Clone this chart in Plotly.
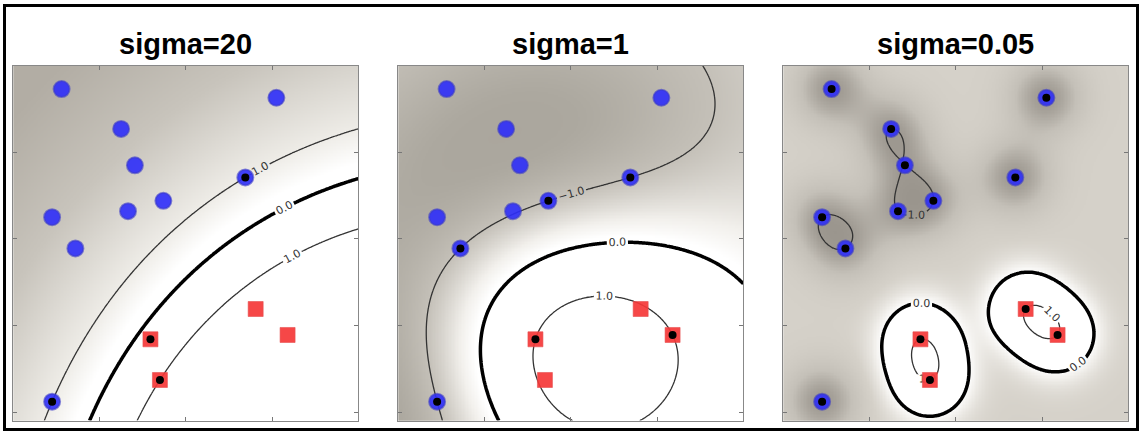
import numpy as np
import plotly.graph_objects as go

# ---- data ----
blue_x = [0.56, 3.05, 1.25, 1.41, 2.69, 1.74, 1.33, 0.45, 0.72, 0.45]
blue_y = [3.73, 3.63, 3.27, 2.85, 2.71, 2.44, 2.32, 2.25, 1.89, 0.12]
red_x = [2.81, 3.18, 1.59, 1.70]
red_y = [1.19, 0.89, 0.84, 0.37]

titles = ["sigma=20", "sigma=1", "sigma=0.05"]
# support vectors per panel (indices into blue / red lists)
sv_blue = [[4, 9], [4, 5, 8, 9], list(range(10))]
sv_red = [[2, 3], [1, 2], list(range(4))]
# decision value of margin-violating support vectors (soft margin), by red index
sv_red_inside = [{2: 0.3}, {}, {}]
# kernel widths in plot units (model setting)
widths = [5.0, 1.3, 0.3]

W, H = 1141, 433
xdom = [(13.3, 358.3), (398.3, 743.3), (783.3, 1128.3)]
ytop, ybot = 65.7, 420.7

gx = np.linspace(0, 4, 241)
gy = np.linspace(-0.1, 4, 247)
GX, GY = np.meshgrid(gx, gy)


def decision(si, w):
    bx = [blue_x[i] for i in sv_blue[si]] + [red_x[i] for i in sv_red[si]]
    by = [blue_y[i] for i in sv_blue[si]] + [red_y[i] for i in sv_red[si]]
    lab = [-1.0] * len(sv_blue[si]) + [sv_red_inside[si].get(i, 1.0) for i in sv_red[si]]
    P = np.array([bx, by]).T
    n = len(lab)
    d2 = ((P[:, None, :] - P[None, :, :]) ** 2).sum(-1)
    K = np.exp(-d2 / (2 * w * w))
    A = np.zeros((n + 1, n + 1))
    A[:n, :n] = K
    A[:n, n] = 1.0
    A[n, :n] = 1.0
    rhs = np.array(lab + [0.0])
    sol = np.linalg.lstsq(A, rhs, rcond=None)[0]
    c, b = sol[:n], sol[n]
    D2 = (GX[..., None] - P[:, 0]) ** 2 + (GY[..., None] - P[:, 1]) ** 2
    return (np.exp(-D2 / (2 * w * w)) * c).sum(-1) + b, b


def make_scale(anchors):
    anchors = sorted(anchors, key=lambda a: a[0])
    lo, hi = anchors[0][0], anchors[-1][0]
    cs = []
    for v, col in anchors:
        t = (v - lo) / (hi - lo)
        if cs and t <= cs[-1][0]:
            t = min(1.0, cs[-1][0] + 1e-4)
        cs.append([t, "rgb(%d,%d,%d)" % col])
    cs[-1][0] = 1.0
    return cs, lo, hi


fig = go.Figure()
for k in range(3):
    sfx = "" if k == 0 else str(k + 1)
    xa, ya = "x" + sfx, "y" + sfx
    Z, bias = decision(k, widths[k])
    if k == 0:
        anchors = [(-5.0, (178, 173, 164)), (-3.0, (200, 196, 188)), (-1.0, (238, 236, 231)),
                   (-0.3, (255, 255, 255)), (0.0, (255, 255, 255))]
    elif k == 1:
        anchors = [(-2.2, (160, 155, 146)), (-1.5, (172, 168, 159)), (-1.0, (196, 192, 184)),
                   (-0.4, (242, 240, 236)), (-0.1, (255, 255, 255)), (0.0, (255, 255, 255))]
    else:
        bb = min(max(bias, -0.9), -0.15)
        anchors = [(-1.4, (140, 135, 127)), (-1.0, (158, 153, 145)),
                   ((bb - 1.0) / 2.0, (196, 192, 184)), (bb, (213, 209, 201)),
                   (bb * 0.4, (240, 238, 234)), (0.0, (255, 255, 255))]
    cs, zlo, zhi = make_scale(anchors)
    fig.add_trace(go.Heatmap(x=gx, y=gy, z=Z, colorscale=cs, zmin=zlo, zmax=zhi,
                             showscale=False, hoverinfo="skip",
                             xaxis=xa, yaxis=ya))
    fig.add_trace(go.Contour(x=gx, y=gy, z=Z, showscale=False,
                             contours=dict(start=-1, end=1, size=2, coloring="none",
                                           showlabels=True, labelformat=".1f",
                                           labelfont=dict(size=11, color="#333", family="DejaVu Sans")),
                             line=dict(color="#333", width=1.3, smoothing=1),
                             hoverinfo="skip", xaxis=xa, yaxis=ya))
    fig.add_trace(go.Contour(x=gx, y=gy, z=Z, showscale=False,
                             contours=dict(start=0, end=0, size=1, coloring="none",
                                           showlabels=True, labelformat=".1f",
                                           labelfont=dict(size=11, color="#333", family="DejaVu Sans")),
                             line=dict(color="black", width=3.5, smoothing=1),
                             hoverinfo="skip", xaxis=xa, yaxis=ya))
    fig.add_trace(go.Scatter(x=blue_x, y=blue_y, mode="markers",
                             marker=dict(symbol="circle", size=16, color="rgba(45,45,250,0.9)",
                                         line=dict(color="rgba(60,60,200,0.6)", width=2)),
                             hoverinfo="skip", xaxis=xa, yaxis=ya))
    fig.add_trace(go.Scatter(x=red_x, y=red_y, mode="markers",
                             marker=dict(symbol="square", size=15, color="rgba(245,55,55,0.92)",
                                         line=dict(color="rgba(230,80,80,0.6)", width=1)),
                             hoverinfo="skip", xaxis=xa, yaxis=ya))
    svx = [blue_x[i] for i in sv_blue[k]] + [red_x[i] for i in sv_red[k]]
    svy = [blue_y[i] for i in sv_blue[k]] + [red_y[i] for i in sv_red[k]]
    fig.add_trace(go.Scatter(x=svx, y=svy, mode="markers",
                             marker=dict(symbol="circle", size=8, color="black"),
                             hoverinfo="skip", xaxis=xa, yaxis=ya))

    x0, x1 = xdom[k]
    axcommon = dict(showticklabels=False, ticks="inside", ticklen=4, tickcolor="#777",
                    showline=True, linecolor="#888", linewidth=1, mirror="ticks",
                    showgrid=False, zeroline=False, fixedrange=True)
    fig.layout["xaxis" + sfx] = dict(domain=[x0 / W, x1 / W], range=[0, 4],
                                     tickvals=[0, 1, 2, 3, 4], anchor=ya, **axcommon)
    fig.layout["yaxis" + sfx] = dict(domain=[(H - ybot) / H, (H - ytop) / H], range=[-0.1, 4],
                                     tickvals=[0, 1, 2, 3, 4], anchor=xa, **axcommon)
    fig.add_annotation(text="<b>" + titles[k] + "</b>", xref="paper", yref="paper",
                       x=(x0 + x1) / 2 / W, y=(H - 44) / H, showarrow=False,
                       font=dict(size=29, color="black", family="Liberation Sans, Arial"),
                       xanchor="center", yanchor="middle")

fig.add_shape(type="rect", xref="paper", yref="paper",
              x0=4.5 / W, x1=1137.5 / W, y0=(H - 429.5) / H, y1=(H - 5.5) / H,
              line=dict(color="black", width=3))

fig.update_layout(width=W, height=H, margin=dict(l=0, r=0, t=0, b=0),
                  paper_bgcolor="white", plot_bgcolor="white", showlegend=False)
fig.write_html("out.html", config={"displayModeBar": False, "staticPlot": True},
               post_script="document.body.style.margin='0';document.body.style.overflow='hidden';")
